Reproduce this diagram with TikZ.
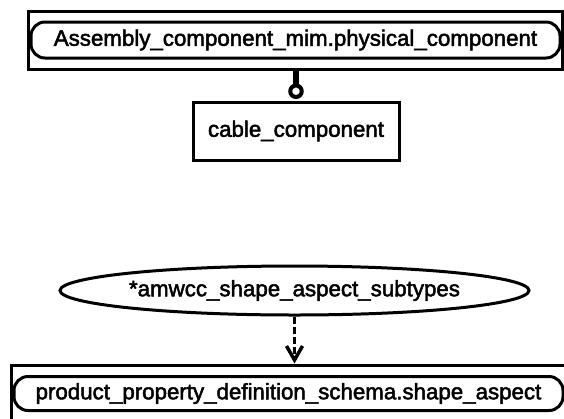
\documentclass[tikz,border=0pt]{standalone}
\usepackage{fontspec}
\setmainfont{Liberation Sans}
\newfontfamily\lblfont{Liberation Sans}[FakeBold=2.2]
\usetikzlibrary{arrows.meta,shapes.geometric}
\begin{document}
\begin{tikzpicture}[x=1pt,y=-1pt,
  every node/.style={inner sep=0pt, font=\lblfont\fontsize{22.3}{26}\selectfont},
  outerbox/.style={draw, line width=3pt, rectangle},
  roundbox/.style={draw, line width=3pt, rectangle, rounded corners=14pt},
  entbox/.style={draw, line width=3pt, rectangle},
  typeell/.style={draw, line width=3pt, ellipse},
  subline/.style={line width=5.5pt},
  subring/.style={draw, circle, line width=4pt, minimum size=11.5pt, fill=white},
  refline/.style={line width=3pt, dash pattern=on 7pt off 3pt, -{Straight Barb[length=14pt, width=16pt, line width=3.5pt]}}
]
\useasboundingbox (0,0) rectangle (564,418);
\clip (0,0) rectangle (564,418);
% top entity
\node[outerbox, minimum width=534pt, minimum height=58pt] (topout) at (295,40) {};
\node[roundbox, minimum width=529pt, minimum height=36pt] (topin) at (295.5,40) {Assembly\_component\_mim.physical\_component};
% cable component
\node[entbox, minimum width=206pt, minimum height=58pt] (cable) at (296,131) {cable\_component};
\node[subring, anchor=south] (ring) at ([yshift=1.5pt]cable.north) {};
\draw[subline] (topout.south -| ring.north) -- (ring.north);
% ellipse
\node[typeell, minimum width=469pt, minimum height=49pt] (subt) at (294.5,290.5) {*amwcc\_shape\_aspect\_subtypes};
% bottom entity
\node[outerbox, minimum width=569pt, minimum height=58pt] (botout) at (295.5,394) {};
\node[roundbox, minimum width=549pt, minimum height=34pt] (botin) at (288.5,393.5) {product\_property\_definition\_schema.shape\_aspect};
\coordinate (bottop) at (subt.south |- botout.north);
\draw[refline] (subt.south) -- (bottop);
\end{tikzpicture}
\end{document}
